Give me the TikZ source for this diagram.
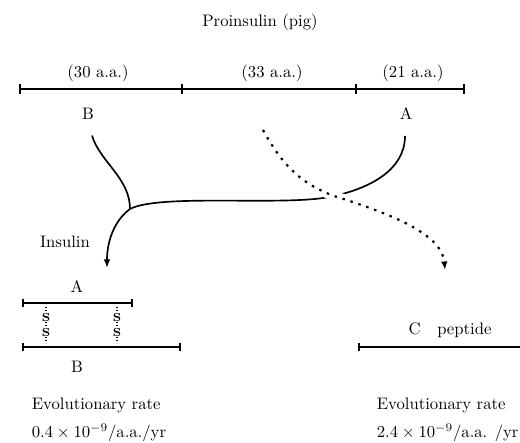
\documentclass[tikz,border=0pt]{standalone}
\usetikzlibrary{arrows.meta}
\begin{document}
\begin{tikzpicture}[x=0.6pt, y=-0.6pt, every node/.style={font=\normalsize}, >={Latex[length=1.8mm,width=1.4mm]},
	seg/.style={{Bar[width=5pt]}-{Bar[width=5pt]}, line width=1pt},
	path/.style={line width=1pt},
	dots/.style={line width=1.3pt, dash pattern=on 1.5pt off 3.5pt},
	sbond/.style={font=\scriptsize\bfseries, inner sep=0pt}]
	\fill[white] (0,0) rectangle (520,443);
	\clip (0,0) rectangle (520,443);
	% proinsulin
	\node (title) at (260,22) {Proinsulin (pig)};
	\node (lenB) at (98,73) {(30 a.a.)};
	\node (lenC) at (272,73) {(33 a.a.)};
	\node (lenA) at (413,73) {(21 a.a.)};
	\draw[line width=1pt] (20,89) -- (464,89);
	\foreach \x in {20,182,356,464}
		\draw[line width=0.8pt] (\x,84) -- (\x,94);
	\node (labB) at (88,114) {B};
	\node (labA) at (406,114) {A};
	% cleavage
	\coordinate (join) at (130,209);
	\coordinate (cross) at (334,196);
	\coordinate (ins) at (107,268);
	\coordinate (cp) at (445,270);
	\draw[path] (labB.south) ++(4,10) .. controls (100,162) and (130,178) .. (join);
	\draw[path, ->] (join) .. controls (115,220) and (107,240) .. (ins);
	\draw[path] (labA.south) ++(-1,10) .. controls (405,170) and (370,188) .. (cross) .. controls (290,207) and (160,193) .. (join);
	\draw[dots, ->, preaction={draw=white, solid, line width=6pt, shorten >=4mm}] (263,130) .. controls (285,170) and (305,185) .. (cross) .. controls (395,215) and (442,235) .. (cp);
	\node (insulin) at (65,242) {Insulin};
	% insulin chains
	\node (chA) at (77,287) {A};
	\draw[seg] (22,303) -- (133,303);
	\draw[seg] (22,347) -- (181,347);
	\node (chB) at (77,367) {B};
	\foreach \x/\n in {46/l,117/r} {
		\draw[line width=0.8pt, densely dotted] (\x,307) -- (\x,343);
		\node[sbond, fill=white] (s1\n) at (\x,317) {S};
		\node[sbond, fill=white] (s2\n) at (\x,332) {S};
	}
	\node[anchor=west] (rateI) at (26,405) {Evolutionary rate};
	\node[anchor=west] (valI) at (26,433) {$0.4\times10^{-9}$/a.a./yr};
	% C peptide
	\node (cpep) at (450,330) {C\hspace{1em}peptide};
	\draw[seg] (358,347) -- (545,347);
	\node[anchor=west] (rateC) at (371,405) {Evolutionary rate};
	\node[anchor=west] (valC) at (371,433) {$2.4\times10^{-9}$/a.a. /yr};
\end{tikzpicture}
\end{document}
